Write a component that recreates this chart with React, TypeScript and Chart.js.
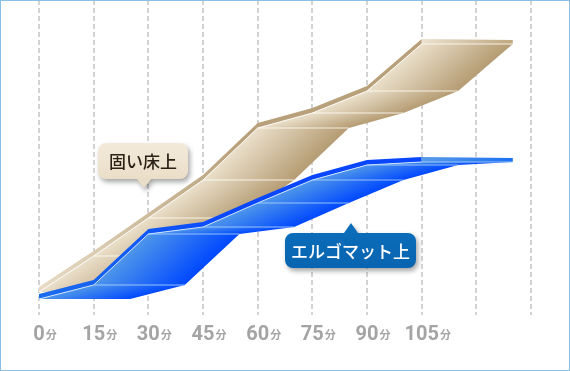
import { useEffect, useRef } from 'react';
import { Chart, registerables } from 'chart.js';

Chart.register(...registerables);

// ---- data ----
const minutes = [0, 15, 30, 45, 60, 75, 90, 105];
const tickMinutes = [0, 15, 30, 45, 60, 75, 90, 105];
const tickSuffix = '分';
const hardFloor = [23, 59, 97, 135, 187, 202, 224, 271];
const ergoMat = [16, 30, 81, 88, 112, 135, 150, 153];
const seriesLabels = ['固い床上', 'エルゴマット上'];
const depthMinutes = 25; // ribbon depth along the time axis
const axisMaxMinutes = 135;
const valueMax = 315;

type Pt = { x: number; y: number | null };

const styles = {
  gold: {
    faceLight: '#eadfca',
    faceDark: '#b59c73',
    bandLight: '#e8dcc6',
    bandDark: '#b8a07a',
    capLight: '#ebe2d0',
    capDark: '#bfa780',
    edge: 'rgba(255,255,255,0.85)',
    rung: 'rgba(255,252,242,0.85)',
    band: 5,
  },
  blue: {
    faceLight: '#4d95ea',
    faceDark: '#0048ff',
    bandLight: '#1a6ced',
    bandDark: '#0846ff',
    capLight: '#5a9be8',
    capDark: '#1a70f2',
    edge: 'rgba(215,235,255,0.9)',
    rung: 'rgba(170,210,255,0.85)',
    band: 5,
  },
};

function faceGradient(c0: string, c1: string) {
  return (ctx: any) => {
    const chart = ctx.chart;
    const xs = chart.scales && chart.scales.x;
    const ys = chart.scales && chart.scales.y;
    if (!xs || !ys || !chart.chartArea) return c1;
    const pts = ctx.dataset.data as Pt[];
    const ax = xs.getPixelForValue(pts[0].x), ay = ys.getPixelForValue(pts[0].y as number);
    const bx = xs.getPixelForValue(pts[1].x), by = ys.getPixelForValue(pts[1].y as number);
    const rx = xs.getPixelForValue(pts[3].x);
    const dpx = rx - ax;
    let ex = bx - ax, ey = by - ay;
    const len = Math.hypot(ex, ey) || 1;
    ex /= len; ey /= len;
    let nx = -ey, ny = ex;
    if (nx < 0) { nx = -nx; ny = -ny; }
    const dist = dpx * nx;
    const g = chart.ctx.createLinearGradient(ax, ay, ax + nx * dist, ay + ny * dist);
    g.addColorStop(0, c0);
    g.addColorStop(1, c1);
    return g;
  };
}

function spanGradient(c0: string, c1: string, fromMin: number, toMin: number) {
  return (ctx: any) => {
    const chart = ctx.chart;
    const xs = chart.scales && chart.scales.x;
    if (!xs || !chart.chartArea) return c1;
    const g = chart.ctx.createLinearGradient(xs.getPixelForValue(fromMin), 0, xs.getPixelForValue(toMin), 0);
    g.addColorStop(0, c0);
    g.addColorStop(1, c1);
    return g;
  };
}

const shapeBase = {
  type: 'line' as const,
  fill: 'shape',
  borderWidth: 0,
  borderColor: 'rgba(0,0,0,0)',
  pointRadius: 0,
  tension: 0,
};

function ribbon(values: number[], st: typeof styles.gold, label: string) {
  const n = minutes.length;
  const sets: any[] = [];
  // thickness band along the back edge
  const bandPts: Pt[] = [
    ...minutes.map((t, i) => ({ x: t, y: values[i] + st.band })),
    ...minutes.map((t, i) => ({ x: t, y: values[i] })).reverse(),
  ];
  sets.push({ ...shapeBase, label, data: bandPts, backgroundColor: spanGradient(st.bandLight, st.bandDark, 0, 55) });
  // faces
  for (let i = 0; i < n - 1; i++) {
    const pts: Pt[] = [
      { x: minutes[i], y: values[i] },
      { x: minutes[i + 1], y: values[i + 1] },
      { x: minutes[i + 1] + depthMinutes, y: values[i + 1] },
      { x: minutes[i] + depthMinutes, y: values[i] },
      { x: minutes[i], y: values[i] },
    ];
    sets.push({ ...shapeBase, label, data: pts, backgroundColor: faceGradient(st.faceLight, st.faceDark) });
  }
  // top cap at the last point
  const last = n - 1;
  const capPts: Pt[] = [
    { x: minutes[last], y: values[last] },
    { x: minutes[last] + depthMinutes, y: values[last] },
    { x: minutes[last] + depthMinutes, y: values[last] + st.band - 1 },
    { x: minutes[last], y: values[last] + st.band },
    { x: minutes[last], y: values[last] },
  ];
  sets.push({
    ...shapeBase, label, data: capPts,
    backgroundColor: spanGradient(st.capLight, st.capDark, minutes[last], minutes[last] + depthMinutes),
  });
  // highlight along back edge
  sets.push({
    type: 'line', label, data: minutes.map((t, i) => ({ x: t, y: values[i] })),
    borderColor: st.edge, borderWidth: 1, pointRadius: 0, tension: 0, fill: false,
  });
  // rungs (horizontal edges at each vertex)
  const rungs: Pt[] = [];
  for (let i = 1; i < n; i++) {
    rungs.push({ x: minutes[i], y: values[i] });
    rungs.push({ x: minutes[i] + depthMinutes, y: values[i] });
    rungs.push({ x: minutes[i] + depthMinutes + 0.01, y: null });
  }
  sets.push({
    type: 'line', label, data: rungs, spanGaps: false,
    borderColor: st.rung, borderWidth: 1, pointRadius: 0, tension: 0, fill: false,
  });
  return sets;
}

const framePlugin = {
  id: 'frame',
  afterDraw(chart: any) {
    const { ctx, width, height } = chart;
    ctx.save();
    ctx.strokeStyle = '#8cbfe4';
    ctx.lineWidth = 1;
    ctx.strokeRect(0.5, 0.5, width - 1, height - 1);
    ctx.restore();
  },
};

const minuteLabelPlugin = {
  id: 'minuteLabels',
  afterDraw(chart: any) {
    const { ctx } = chart;
    const xs = chart.scales.x;
    ctx.save();
    ctx.fillStyle = '#a4a4a4';
    ctx.textBaseline = 'alphabetic';
    for (const m of tickMinutes) {
      const x = xs.getPixelForValue(m);
      const num = String(m);
      ctx.font = '700 20px Roboto';
      const w = ctx.measureText(num).width;
      ctx.textAlign = 'center';
      ctx.fillText(num, x, 340);
      ctx.font = '700 11px "Noto Sans CJK JP"';
      ctx.textAlign = 'left';
      ctx.fillText(tickSuffix, x + w / 2 + 1, 339);
    }
    ctx.restore();
  },
};

function calloutPath(ctx: CanvasRenderingContext2D, x: number, y: number, w: number, h: number, r: number,
  px: number, half: number, tipLen: number, down: boolean) {
  ctx.beginPath();
  ctx.moveTo(x + r, y);
  if (!down) {
    ctx.lineTo(px - half, y);
    ctx.lineTo(px, y - tipLen);
    ctx.lineTo(px + half, y);
  }
  ctx.lineTo(x + w - r, y);
  ctx.arcTo(x + w, y, x + w, y + r, r);
  ctx.lineTo(x + w, y + h - r);
  ctx.arcTo(x + w, y + h, x + w - r, y + h, r);
  if (down) {
    ctx.lineTo(px + half, y + h);
    ctx.lineTo(px, y + h + tipLen);
    ctx.lineTo(px - half, y + h);
  }
  ctx.lineTo(x + r, y + h);
  ctx.arcTo(x, y + h, x, y + h - r, r);
  ctx.lineTo(x, y + r);
  ctx.arcTo(x, y, x + r, y, r);
  ctx.closePath();
}

const calloutPlugin = {
  id: 'callouts',
  afterDraw(chart: any) {
    const { ctx } = chart;
    const items = [
      { text: seriesLabels[0], x: 98, y: 143, w: 90, h: 36, px: 144, down: true, tip: 9,
        fill: ['#f3eadb', '#ebdec8'], color: '#2a2016' },
      { text: seriesLabels[1], x: 285, y: 233, w: 131, h: 35, px: 351, down: false, tip: 10,
        fill: ['#0b6cb9', '#0864b0'], color: '#ffffff' },
    ];
    for (const it of items) {
      ctx.save();
      const g = ctx.createLinearGradient(0, it.y, 0, it.y + it.h);
      g.addColorStop(0, it.fill[0]);
      g.addColorStop(1, it.fill[1]);
      ctx.shadowColor = 'rgba(0,0,0,0.35)';
      ctx.shadowBlur = 5;
      ctx.shadowOffsetX = 2;
      ctx.shadowOffsetY = 3;
      ctx.fillStyle = g;
      calloutPath(ctx, it.x, it.y, it.w, it.h, 8, it.px, 7, it.tip, it.down);
      ctx.fill();
      ctx.restore();
      ctx.save();
      ctx.fillStyle = it.color;
      ctx.font = '500 17px "Noto Sans CJK JP"';
      ctx.textAlign = 'center';
      ctx.textBaseline = 'middle';
      ctx.fillText(it.text, it.x + it.w / 2, it.y + it.h / 2 + 1);
      ctx.restore();
    }
  },
};

export default function App() {
  const ref = useRef<HTMLCanvasElement | null>(null);
  useEffect(() => {
    if (!ref.current) return;
    const layers = [
      ...ribbon(hardFloor, styles.gold, seriesLabels[0]),
      ...ribbon(ergoMat, styles.blue, seriesLabels[1]),
    ];
    // lower order is drawn on top: paint in list order
    layers.forEach((d, i) => { d.order = layers.length - i; });
    const chart = new Chart(ref.current, {
      type: 'line',
      data: { datasets: layers },
      options: {
        animation: false,
        responsive: false,
        devicePixelRatio: 1,
        events: [],
        layout: { padding: { left: 39, right: 39, top: 0, bottom: 56 } },
        plugins: { legend: { display: false }, tooltip: { enabled: false } },
        scales: {
          x: {
            type: 'linear',
            min: 0,
            max: axisMaxMinutes,
            ticks: { display: false, stepSize: 15 },
            grid: { color: '#d3d3d3', lineWidth: 2, drawTicks: false },
            border: { display: false, dash: [5, 3] },
          },
          y: { type: 'linear', min: 0, max: valueMax, display: false },
        },
      } as any,
      plugins: [framePlugin, minuteLabelPlugin, calloutPlugin],
    });
    return () => chart.destroy();
  }, []);
  return (
    <div style={{ position: 'fixed', left: 0, top: 0, width: 570, height: 371, background: '#fff' }}>
      <canvas ref={ref} width={570} height={371} style={{ display: 'block' }} />
    </div>
  );
}
